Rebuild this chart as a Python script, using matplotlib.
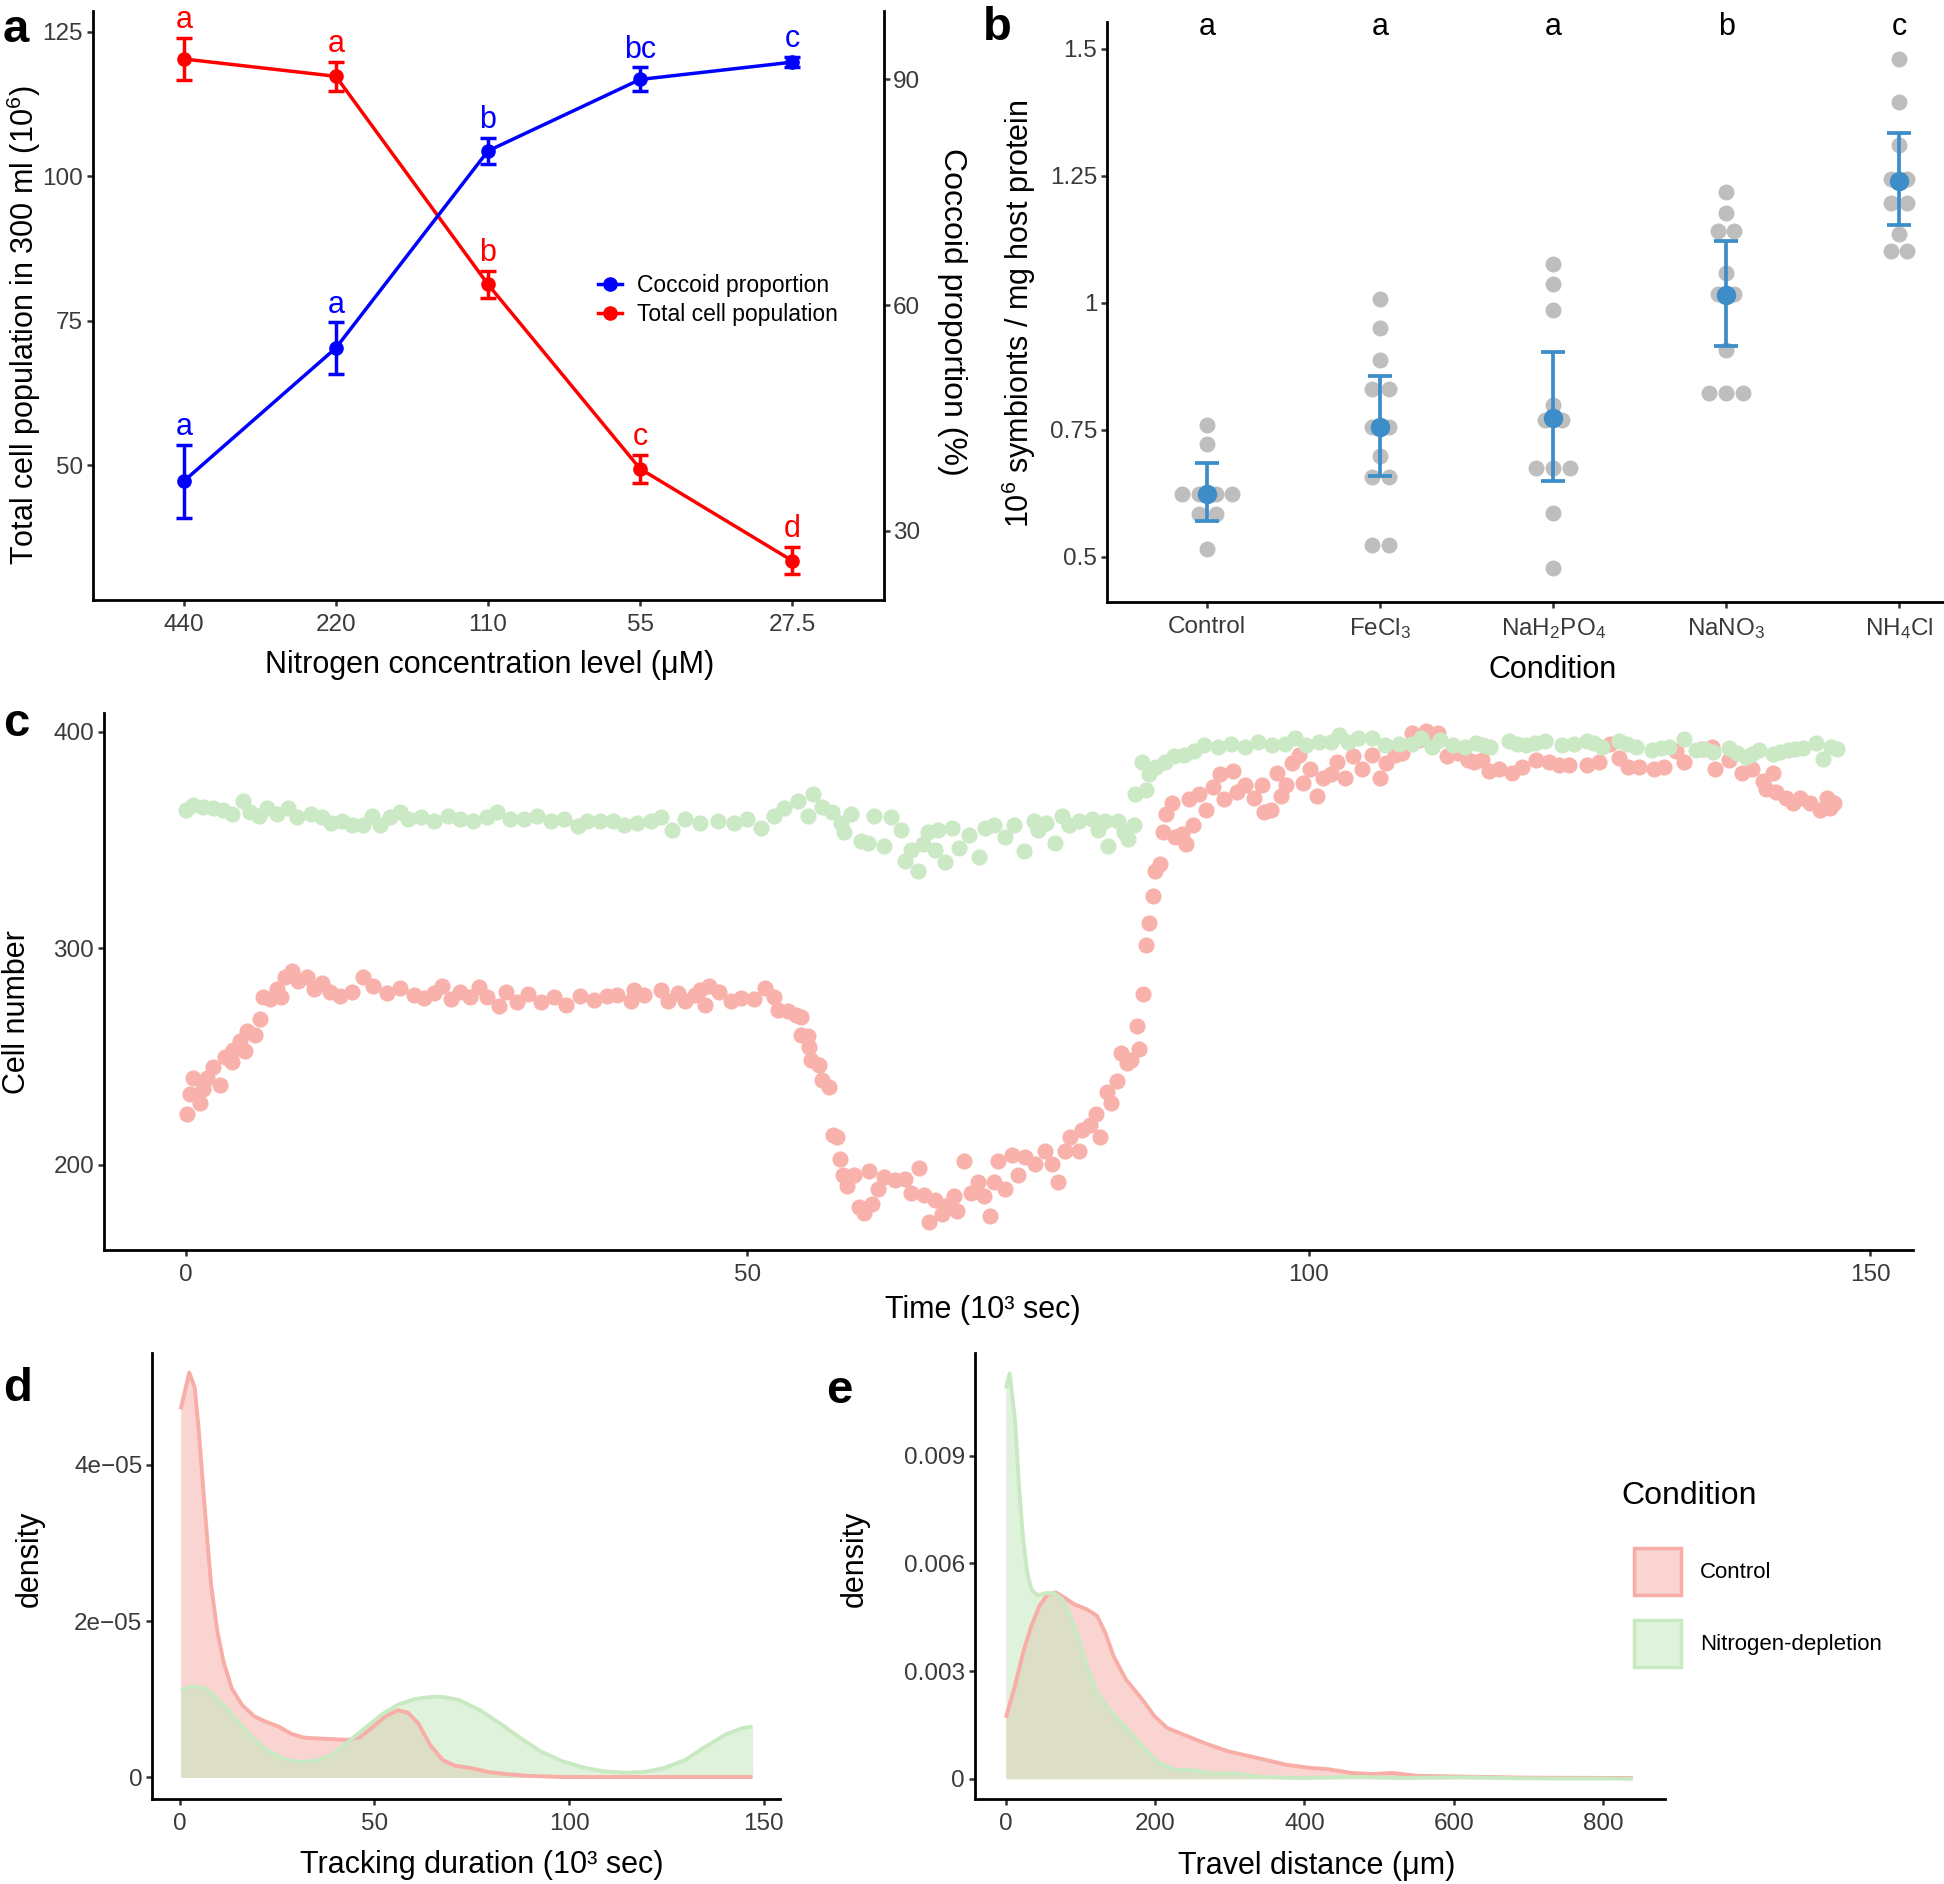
import numpy as np
import matplotlib
matplotlib.use('Agg')
import matplotlib.pyplot as plt
from matplotlib.lines import Line2D
from matplotlib.patches import Patch

plt.rcParams['font.family'] = ['Liberation Sans', 'DejaVu Sans']
plt.rcParams['mathtext.fontset'] = 'custom'
plt.rcParams['mathtext.rm'] = 'Liberation Sans'
plt.rcParams['mathtext.it'] = 'Liberation Sans:italic'
plt.rcParams['mathtext.bf'] = 'Liberation Sans:bold'

# ---- panel a: nitrogen series
conc_labels = ['440', '220', '110', '55', '27.5']
total_pop = [120.3, 117.3, 81.3, 49.4, 33.5]
total_se = [3.65, 2.55, 2.4, 2.4, 2.35]
total_letters = ['a', 'a', 'b', 'c', 'd']
coccoid = [36.6, 54.3, 80.5, 90.0, 92.3]
coccoid_se = [4.85, 3.4, 1.75, 1.6, 0.7]
coccoid_letters = ['a', 'a', 'b', 'bc', 'c']

# ---- panel b: symbiont density per condition
cond_labels = ['Control', 'FeCl$_3$', 'NaH$_2$PO$_4$', 'NaNO$_3$', 'NH$_4$Cl']
sym_control = [0.76, 0.722, 0.623, 0.623, 0.623, 0.623, 0.584, 0.584, 0.516]
sym_fecl3 = [1.008, 0.95, 0.887, 0.83, 0.83, 0.756, 0.756, 0.699, 0.657, 0.657, 0.523, 0.523]
sym_nah2po4 = [1.077, 1.037, 0.985, 0.798, 0.769, 0.769, 0.674, 0.674, 0.674, 0.586, 0.477]
sym_nano3 = [1.218, 1.177, 1.141, 1.141, 1.058, 1.017, 1.017, 0.908, 0.823, 0.823, 0.823]
sym_nh4cl = [1.48, 1.395, 1.31, 1.243, 1.243, 1.196, 1.196, 1.135, 1.102, 1.102]
sym_mean = [0.623, 0.756, 0.773, 1.015, 1.24]
sym_lo = [0.57, 0.66, 0.649, 0.916, 1.154]
sym_hi = [0.685, 0.856, 0.904, 1.121, 1.334]
sym_letters = ['a', 'a', 'a', 'b', 'c']

# ---- panel c: cell number over time (10^3 sec)
ctrl_t = [0.06, 0.36, 0.65, 1.25, 1.55, 1.84, 2.44, 3.03, 3.48, 4.07, 4.22, 4.82, 5.26, 5.41,
          6.15, 6.6, 6.9, 7.5, 8.1, 8.5, 8.8, 9.4, 10.0, 10.8, 11.4, 12.1, 12.8, 13.7, 14.8,
          15.8, 16.7, 17.9, 19.1, 20.3, 21.2, 22.1, 22.8, 23.6, 24.4, 25.3, 26.1, 26.8, 27.9,
          28.5, 29.5, 30.5, 31.6, 32.8, 33.8, 35.1, 36.3, 37.5, 38.4, 39.6, 39.9, 40.8, 42.3,
          42.9, 43.8, 44.4, 45.3, 45.8, 46.2, 46.6, 47.5, 48.5, 49.4, 50.6, 51.6, 52.4, 52.7,
          53.6, 54.3, 54.8, 54.8, 55.4, 55.5, 55.7, 56.4, 56.6, 57.3, 57.6, 58.0, 58.2, 58.5,
          58.9, 59.5, 59.9, 60.4, 60.8, 61.1, 61.6, 62.2, 63.1, 64.0, 64.6, 65.3, 65.7, 66.2,
          66.7, 67.3, 67.9, 68.4, 68.7, 69.3, 69.9, 70.5, 71.1, 71.6, 72.0, 72.3, 72.9, 73.6,
          74.1, 74.7, 75.6, 76.5, 77.1, 77.7, 78.3, 78.7, 79.5, 79.8, 80.5, 81.0, 81.4, 82.0,
          82.4, 82.9, 83.3, 83.8, 84.2, 84.7, 84.9, 85.2, 85.5, 85.8, 86.1, 86.3, 86.7, 87.0,
          87.3, 87.8, 88.1, 88.7, 89.1, 89.3, 89.7, 90.2, 90.8, 91.5, 92.1, 92.4, 93.2, 93.6,
          94.3, 95.1, 95.8, 96.0, 96.6, 97.2, 97.5, 98.0, 98.5, 99.1, 99.5, 100.1, 100.7,
          101.3, 102.0, 102.5, 103.2, 103.9, 104.7, 105.6, 106.3, 106.9, 107.7, 108.3, 109.2,
          109.8, 110.4, 110.9, 111.5, 112.3, 113.3, 114.2, 114.7, 115.4, 116.0, 116.9, 118.1,
          119.0, 120.2, 121.4, 122.3, 123.2, 124.8, 125.8, 126.8, 127.6, 128.4, 129.4, 130.7,
          131.6, 132.7, 133.4, 135.0, 135.9, 136.2, 137.4, 138.6, 139.5, 140.4, 140.7, 141.3,
          141.6, 142.5, 143.1, 143.7, 144.6, 145.5, 146.1, 146.4, 146.8]
ctrl_n = [223.6, 232.7, 239.9, 228.6, 235.2, 240, 245, 237, 250, 247.6, 253, 257, 252.6, 261.7,
          260, 267.5, 277.5, 276.7, 281, 277.5, 286.6, 289.6, 285, 286.6, 281, 284, 280, 278, 280,
          286.5, 282.5, 279.2, 281.6, 278.3, 277, 279.2, 282.5, 276.7, 280, 277.5, 282, 277.5, 273.4,
          280, 275, 279, 275, 277.5, 274, 278, 276, 278, 278.3, 275.8, 280.8, 278.3, 280.8,
          275.8, 279.2, 275.8, 278.3, 280.8, 273.7, 282.5, 280, 275.8, 277, 276.7, 281.6, 277.5, 271.7,
          270.9, 269.2, 268.4, 260, 259.3, 254.3, 248.5, 246, 239.4, 236, 213.6, 212.8, 202.9, 195.4,
          190.4, 195.4, 180.5, 178, 197, 182.1, 188.8, 194.6, 192.9, 193.7, 187.1, 198.7, 186.3, 173.8,
          183.8, 177.2, 181.3, 185.5, 178.8, 202, 187.1, 192, 185.5, 176.3, 192, 202, 188.8, 204.5,
          195.4, 203.7, 200.4, 206.2, 200.4, 192, 206.2, 212.8, 206.2, 216.1, 218.6, 223.6, 212.8, 233.6,
          228.6, 238.5, 251.8, 246.8, 248.5, 264.2, 253.5, 278.7, 301.5, 311.5, 323.9, 335.5, 338.9, 353.8,
          362, 367, 351.3, 352.9, 348, 368.7, 357.1, 371.2, 363.7, 374.5, 380.3, 368.7, 382, 372,
          375.3, 369.5, 375.3, 362.9, 363.7, 381.1, 370.4, 375.3, 385.3, 389.4, 376.2, 382.8, 370.4,
          378.6, 380.3, 386.1, 378.6, 388.6, 382.8, 389.4, 378.6, 385.3, 389.4, 390.3, 399.4,
          396.1, 400.2, 397.7, 399.4, 388.6, 390.3, 387, 386.1, 386.9, 382, 382.8, 381.1,
          383.6, 386.9, 386.1, 384.5, 384.5, 384.5, 386.1, 394.4, 387.8, 383.6, 383.6, 382.8,
          383.6, 391.1, 386.1, 391.9, 392.8, 382.8, 386.9, 381.1, 382.8, 377, 373.7, 381.1,
          372, 369.5, 367, 369.5, 367, 363.7, 369.5, 364.6, 367]
ndep_t = [0.0, 0.65, 1.5, 2.4, 3.3, 4.1, 5.1, 5.7, 6.5, 7.2, 8.1, 9.1, 9.9, 11.1, 12.1, 12.9,
          13.9, 14.8, 15.8, 16.6, 17.3, 18.2, 19.1, 19.8, 20.9, 22.1, 23.3, 24.4, 25.6, 26.8,
          27.7, 28.9, 30.1, 31.3, 32.5, 33.7, 34.9, 35.7, 36.9, 38.0, 39.0, 40.2, 41.4, 42.3,
          43.3, 44.4, 45.8, 47.4, 48.8, 50.0, 51.2, 52.4, 53.3, 54.5, 55.4, 55.8, 56.6, 57.5,
          58.3, 58.6, 59.2, 60.1, 60.7, 61.3, 62.2, 62.8, 63.7, 64.0, 64.6, 65.2, 65.6, 66.1,
          66.7, 67.0, 67.6, 68.2, 68.8, 69.7, 70.6, 71.2, 72.0, 72.9, 73.7, 74.6, 75.5, 75.9,
          76.6, 77.4, 78.0, 78.6, 79.5, 80.7, 81.2, 81.8, 82.1, 83.0, 83.5, 83.9, 84.4, 84.5,
          85.1, 85.5, 85.8, 86.4, 87.2, 88.0, 88.9, 89.8, 90.7, 91.9, 93.1, 94.3, 95.5, 96.7,
          97.9, 98.8, 99.7, 100.9, 102.0, 102.7, 103.5, 104.4, 105.6, 106.8, 108.0, 109.2,
          110.0, 111.0, 111.7, 112.8, 113.9, 114.9, 115.5, 116.1, 117.8, 118.5, 119.3, 120.1,
          121.0, 122.5, 123.6, 124.8, 125.4, 126.1, 127.6, 128.3, 129.1, 130.6, 131.4, 132.1,
          133.4, 134.5, 135.2, 136.0, 137.4, 138.1, 138.9, 139.5, 140.1, 141.3, 142.0, 142.7,
          143.3, 144.0, 145.2, 145.8, 146.5, 147.0]
ndep_n = [364, 366, 365.4, 364.6, 363.7, 362, 368, 363, 361.2, 364.6, 362, 364.6, 360.4, 362, 360.4, 358,
          358.9, 357.1, 357.1, 361.2, 357.1, 360.4, 363, 359.6, 360.4, 358.8, 361.2, 359.6, 358.8, 360.4,
          363, 359.6, 359.6, 361.2, 358.8, 359.6, 356.3, 358.8, 358.8, 358.8, 357.1, 358, 358.8, 360.4,
          354.6, 359.6, 358, 358.8, 358, 359.6, 355.4, 361.2, 364.6, 368, 361.2, 371.2, 365.4, 363,
          358, 353.8, 362, 349.6, 348.8, 361.2, 347.2, 360.4, 354.6, 340.5, 345.5, 335.5, 348, 353.8,
          345.5, 354.6, 339.7, 355.4, 346.3, 352.1, 342.2, 355.4, 357.1, 351.3, 357.1, 344.7, 358.8, 354.6,
          358, 348.8, 361.2, 357.1, 358.8, 359.6, 354.6, 358.8, 347.2, 358.8, 353.8, 350.5, 357.1, 371.2,
          386.1, 372.9, 380.3, 383.6, 386.1, 388.6, 389.4, 391.1, 393.6, 392.8, 394.4, 392.8, 395.2, 393.6,
          394.4, 396.9, 393.6, 395.2, 395.2, 398.5, 395.2, 396.9, 396.9, 393.6, 394.4, 394.4,
          396.9, 392.8, 396.1, 393.6, 392.8, 394.7, 393.9, 393.1, 395.5, 394.5, 393.9, 394.8,
          395.5, 393.9, 394.2, 395.5, 394.6, 393.1, 395.5, 394.1, 393.1, 391.4, 392.4, 393.1,
          396.4, 391.4, 392.0, 390.6, 392.3, 390.0, 388.1, 389.6, 391.4, 389.7, 390.5, 391.4,
          391.8, 392.3, 394.7, 387.2, 393.1, 391.8]

# ---- panel d: tracking duration density (10^3 sec), density in 1e-5
dur_ctrl_x = [0.3, 2.5, 3.9, 4.9, 6.0, 7.1, 8.1, 9.7, 11.3, 13.4, 16.0, 19.2, 22.3, 25.5, 28.6,
              31.8, 34.9, 39.2, 43.4, 46.5, 49.7, 52.8, 56.0, 58.6, 61.3, 64.4, 67.6, 70.7, 74.9,
              79.2, 84.4, 89.7, 98.1, 108.6, 147.1]
dur_ctrl_y = [4.71, 5.18, 4.99, 4.47, 3.75, 3.06, 2.47, 1.87, 1.48, 1.14, 0.93, 0.78, 0.71, 0.65, 0.56,
              0.51, 0.50, 0.49, 0.48, 0.52, 0.65, 0.78, 0.86, 0.83, 0.69, 0.41, 0.22, 0.15, 0.12,
              0.07, 0.04, 0.02, 0.005, 0.005, 0.005]
dur_ndep_x = [0.3, 3.4, 6.5, 9.7, 13.9, 18.1, 22.3, 26.5, 30.7, 34.9, 39.2, 43.4, 47.6, 51.8, 56.0,
              60.2, 64.4, 67.6, 71.8, 77.1, 82.3, 87.6, 92.8, 98.1, 103.4, 108.6, 113.9, 119.2,
              124.4, 129.7, 134.9, 140.2, 144.4, 147.1]
dur_ndep_y = [1.12, 1.17, 1.14, 1.01, 0.78, 0.54, 0.35, 0.24, 0.20, 0.21, 0.29, 0.46, 0.63, 0.80, 0.93,
              1.00, 1.03, 1.03, 0.99, 0.86, 0.69, 0.50, 0.33, 0.21, 0.13, 0.08, 0.06, 0.07,
              0.12, 0.22, 0.39, 0.55, 0.63, 0.65]

# ---- panel e: travel distance density (um), density in 1e-3
dist_ctrl_x = [0, 12.1, 23.1, 34.1, 45.1, 56.1, 67.1, 78.1, 91.9, 108.4, 122.1, 133.2, 144.2, 160.7,
               182.7, 199.2, 215.7, 237.7, 265.2, 298.2, 336.7, 375.2, 408.3, 430.3, 463.3, 490.8,
               518.3, 551.3, 584.3, 639.3, 694.4, 840]
dist_ctrl_y = [1.70, 2.58, 3.51, 4.26, 4.82, 5.14, 5.19, 5.05, 4.86, 4.72, 4.54, 4.07, 3.42, 2.77,
               2.21, 1.74, 1.42, 1.23, 1.00, 0.76, 0.58, 0.39, 0.30, 0.27, 0.16, 0.13,
               0.16, 0.08, 0.07, 0.05, 0.03, 0.02]
dist_ndep_x = [0, 5, 12.1, 17.6, 23.1, 28.6, 34.1, 42.4, 53.4, 64.4, 75.4, 86.4, 97.4, 108.4, 122.1,
               138.7, 160.7, 182.7, 204.7, 226.7, 248.7, 276.2, 309.2, 342.2, 391.7, 474.3, 529.3,
               611.8, 694.4, 840]
dist_ndep_y = [10.87, 11.29, 10.03, 8.17, 6.68, 5.75, 5.28, 5.11, 5.17, 5.17, 5.00, 4.54, 3.89, 3.14,
               2.39, 1.93, 1.42, 0.90, 0.44, 0.25, 0.25, 0.14, 0.14, 0.05, 0.02, 0.05, 0.02,
               0.04, 0.01, 0.0]
legend_labels = ['Control', 'Nitrogen-depletion']

W, H = 1944, 1884
fig = plt.figure(figsize=(W / 100, H / 100), dpi=100)

TICK = 17.5
TITLE = 22
TXT = '#3a3a3a'


def add_ax(box):
    l, t, r, b = box
    ax = fig.add_axes([l / W, 1 - b / H, (r - l) / W, (b - t) / H])
    for s in ['top', 'right']:
        ax.spines[s].set_visible(False)
    for s in ['left', 'bottom']:
        ax.spines[s].set_linewidth(2.0)
    ax.tick_params(length=4, width=1.8, color='#333333', labelcolor=TXT, labelsize=TICK)
    ax.tick_params(axis='y', pad=3)
    ax.tick_params(axis='x', pad=6)
    return ax


def set_xlab(ax, box, text, x, y, **kw):
    ax.set_xlabel(text, fontsize=TITLE, **kw)
    ax.xaxis.label.set_va('center')
    ax.xaxis.set_label_coords((x - box[0]) / (box[2] - box[0]), (box[3] - y) / (box[3] - box[1]))


def set_ylab(ax, box, text, x, y, **kw):
    ax.set_ylabel(text, fontsize=TITLE, **kw)
    ax.yaxis.label.set_va('center')
    ax.yaxis.set_label_coords((x - box[0]) / (box[2] - box[0]), (box[3] - y) / (box[3] - box[1]))


# ================= panel a
box_a = (92.5, 11, 883.5, 600)
ax_a = add_ax(box_a)
ax_a2 = ax_a.twinx()
ax_a2.set_position(ax_a.get_position())
for s in ['top', 'left', 'bottom']:
    ax_a2.spines[s].set_visible(False)
ax_a2.spines['right'].set_linewidth(2.0)
ax_a2.tick_params(length=4, width=1.8, color='#333333', labelcolor=TXT, labelsize=TICK, pad=3)

xa = np.arange(len(conc_labels))
ax_a.errorbar(xa, total_pop, yerr=total_se, color='#FF0000', lw=2.5, marker='o', ms=9.5,
              capsize=5.8, capthick=2.5, elinewidth=2.5, zorder=3)
ax_a2.errorbar(xa, coccoid, yerr=coccoid_se, color='#0000FF', lw=2.5, marker='o', ms=9.5,
               capsize=5.8, capthick=2.5, elinewidth=2.5, zorder=3)
for i, lab in enumerate(total_letters):
    ax_a.annotate(lab, (xa[i], total_pop[i] + total_se[i]), xytext=(0, 7), textcoords='offset points',
                  ha='center', va='baseline', color='#FF0000', fontsize=22, annotation_clip=False)
for i, lab in enumerate(coccoid_letters):
    ax_a2.annotate(lab, (xa[i], coccoid[i] + coccoid_se[i]), xytext=(0, 7), textcoords='offset points',
                   ha='center', va='baseline', color='#0000FF', fontsize=22, annotation_clip=False)
ax_a.set_xlim(-0.6, 4.6)
ax_a.set_ylim(26.7, 128.6)
ax_a2.set_ylim(20.8, 99.1)
ax_a.set_xticks(xa)
ax_a.set_xticklabels(conc_labels)
ax_a.set_yticks([50, 75, 100, 125])
ax_a2.set_yticks([30, 60, 90])
set_xlab(ax_a, box_a, 'Nitrogen concentration level (μM)', 490, 665)
set_ylab(ax_a, box_a, 'Total cell population in 300 ml (10$^6$)', 24, 325)
ax_a2.set_ylabel('Coccoid proportion (%)', fontsize=23, rotation=270)
ax_a2.yaxis.label.set_va('center')
ax_a2.yaxis.set_label_coords((952 - box_a[0]) / (box_a[2] - box_a[0]), (box_a[3] - 312) / (box_a[3] - box_a[1]))
hand_a = [Line2D([], [], color='#0000FF', marker='o', lw=2.5, ms=9.5),
          Line2D([], [], color='#FF0000', marker='o', lw=2.5, ms=9.5)]
fig.legend(hand_a, ['Coccoid proportion', 'Total cell population'], loc='center left',
           bbox_to_anchor=(598 / W, 1 - 300 / H), frameon=False, fontsize=16.5, borderpad=0,
           borderaxespad=0, handlelength=1.05, handletextpad=0.65, labelspacing=0.25)

# ================= panel b
box_b = (1107, 22, 1944, 602)
ax_b = add_ax(box_b)
groups = [sym_control, sym_fecl3, sym_nah2po4, sym_nano3, sym_nh4cl]
step = 0.097
for i, vals in enumerate(groups):
    vals = np.array(vals)
    for v in np.unique(vals):
        n = int(np.sum(vals == v))
        offs = (np.arange(n) - (n - 1) / 2) * step
        ax_b.plot(i + offs, np.full(n, v), 'o', color='#BEBEBE', ms=11.5, mew=0, zorder=2)
xb = np.arange(len(cond_labels))
mean_b = np.array(sym_mean)
ax_b.errorbar(xb, mean_b, yerr=[mean_b - np.array(sym_lo), np.array(sym_hi) - mean_b], fmt='o',
              color='#3C8DC8', ms=13, elinewidth=2.7, capsize=8.5, capthick=2.7, zorder=3)
for i, lab in enumerate(sym_letters):
    ax_b.text(i, 1.543, lab, ha='center', va='center', fontsize=22, clip_on=False)
ax_b.set_xlim(-0.58, 4.26)
ax_b.set_ylim(0.411, 1.553)
ax_b.set_xticks(xb)
ax_b.set_xticklabels(cond_labels)
ax_b.set_yticks([0.5, 0.75, 1.0, 1.25, 1.5])
ax_b.set_yticklabels(['0.5', '0.75', '1', '1.25', '1.5'])
set_xlab(ax_b, box_b, 'Condition', 1553, 670)
set_ylab(ax_b, box_b, '10$^6$ symbionts / mg host protein', 1019, 314)

# ================= panel c
box_c = (104, 713, 1913, 1250)
ax_c = add_ax(box_c)
ax_c.scatter(ctrl_t, ctrl_n, s=135, color='#F8B2AB', linewidths=0, zorder=2)
ax_c.scatter(ndep_t, ndep_n, s=135, color='#CBE9C4', linewidths=0, zorder=3)
ax_c.set_xlim(-7.3, 153.8)
ax_c.set_ylim(160.7, 408.6)
ax_c.set_xticks([0, 50, 100, 150])
ax_c.set_yticks([200, 300, 400])
set_xlab(ax_c, box_c, 'Time (10³ sec)', 983, 1310)
set_ylab(ax_c, box_c, 'Cell number', 17, 1012)

# ================= panels d, e
RED_FILL, RED_LINE = '#F9D4D1', '#F8ADA6'
GRN_FILL, GRN_LINE = '#C4E7BE', '#C9E9C3'


def density(ax, x, y, fill, line, alpha):
    ax.fill_between(x, 0, y, color=fill, alpha=alpha, lw=0)
    ax.plot(x, y, color=line, lw=2.8, solid_capstyle='butt')


box_d = (152, 1353, 779.5, 1799)
ax_d = add_ax(box_d)
density(ax_d, dur_ctrl_x, np.array(dur_ctrl_y) * 1e-5, RED_FILL, RED_LINE, 1.0)
density(ax_d, dur_ndep_x, np.array(dur_ndep_y) * 1e-5, GRN_FILL, GRN_LINE, 0.54)
ax_d.set_xlim(-7.06, 154)
ax_d.set_ylim(-0.276e-5, 5.43e-5)
ax_d.set_xticks([0, 50, 100, 150])
ax_d.set_yticks([0, 2e-5, 4e-5])
ax_d.set_yticklabels(['0', '2e\u221205', '4e\u221205'])
set_xlab(ax_d, box_d, 'Tracking duration (10³ sec)', 482, 1865)
set_ylab(ax_d, box_d, 'density', 30, 1559)

box_e = (974.5, 1353, 1665, 1799)
ax_e = add_ax(box_e)
density(ax_e, dist_ctrl_x, np.array(dist_ctrl_y) * 1e-3, RED_FILL, RED_LINE, 1.0)
density(ax_e, dist_ndep_x, np.array(dist_ndep_y) * 1e-3, GRN_FILL, GRN_LINE, 0.54)
ax_e.set_xlim(-42, 883)
ax_e.set_ylim(-0.000565, 0.01186)
ax_e.set_xticks([0, 200, 400, 600, 800])
ax_e.set_yticks([0, 0.003, 0.006, 0.009])
ax_e.set_yticklabels(['0', '0.003', '0.006', '0.009'])
set_xlab(ax_e, box_e, 'Travel distance (μm)', 1317, 1866)
set_ylab(ax_e, box_e, 'density', 855, 1559)

hand_e = [Patch(facecolor=RED_FILL, edgecolor=RED_LINE, lw=2.5),
          Patch(facecolor='#DFF2DC', edgecolor=GRN_LINE, lw=2.5)]
fig.legend(hand_e, legend_labels, loc='upper left', bbox_to_anchor=(1634 / W, 1 - 1548 / H),
           frameon=False, fontsize=16, borderpad=0, borderaxespad=0, handlelength=2.12,
           handleheight=2.88, handletextpad=0.84, labelspacing=1.13)
fig.text(1621 / W, 1 - 1496 / H, 'Condition', fontsize=23, ha='left', va='center')

# panel tags
for tag, x, y in [('a', 3, 42), ('b', 983, 40), ('c', 3, 736), ('d', 3, 1401), ('e', 826, 1403)]:
    fig.text(x / W, 1 - y / H, tag, fontsize=34, fontweight='bold', ha='left', va='baseline')

fig.savefig('out.png', dpi=100)
